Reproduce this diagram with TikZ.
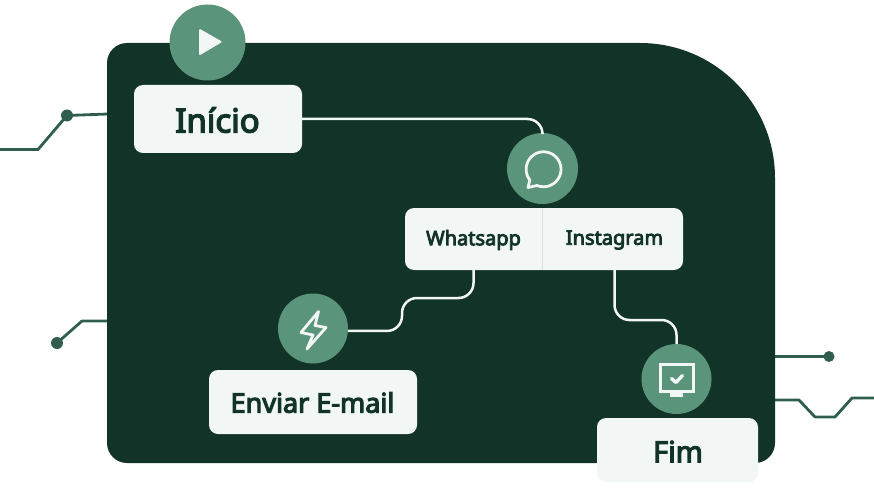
\documentclass[tikz,border=0pt]{standalone}
\usepackage{fontspec}
\setmainfont{Noto Sans}[FakeBold=4]
\usetikzlibrary{calc,positioning}
\definecolor{cartao}{HTML}{123327}
\definecolor{disco}{HTML}{5A947A}
\definecolor{caixa}{HTML}{F2F6F4}
\definecolor{fiocor}{HTML}{2F5F4C}
\tikzset{
  caixote/.style={fill=caixa,rounded corners=9pt,inner sep=0pt,text=cartao},
  rotulo/.style={inner sep=0pt,text=cartao,font=\fontsize{20}{20}\selectfont},
  bola/.style={circle,fill=disco,inner sep=0pt,minimum size=#1},
  ponto/.style={circle,fill=fiocor,inner sep=0pt,minimum size=12pt},
  fio/.style={fiocor,line width=2.8pt,line join=round},
  linha/.style={caixa,line width=2.5pt,rounded corners=15pt},
  icone/.style={caixa,line width=2.8pt,line join=round,line cap=round}
}
\begin{document}
\begin{tikzpicture}[x=1pt,y=-1pt]
\useasboundingbox (0,0) rectangle (874,489);

\node[ponto] (pontoA) at (67,115.5) {};
\node[ponto] (pontoB) at (57,343) {};
\node[ponto,minimum size=11pt] (pontoC) at (829,356.5) {};
\coordinate (fimD) at (874,398);

\draw[fio] (0,149.5) -- (38,149.5) -- (pontoA.center) -- (108,114);
\draw[fio] (108,321) -- (82,321) -- (pontoB.center);
\draw[fio] (774,356.5) -- (pontoC.center);
\draw[fio] (774,400) -- (799,400) -- (815,417) -- (835,417) -- (852,398) -- (fimD);

\fill[cartao] (107,250) [rounded corners=20pt] -- (107,43) [rounded corners=135pt] -- (775,43)
  [rounded corners=20pt] -- (775,463) -- (107,463) -- cycle;

\node[caixote,minimum width=168pt,minimum height=68pt] (inicio) at (218,119) {};
\node[rotulo,font=\fontsize{33}{33}\selectfont] at (217.5,120) {Início};

\node[bola=76pt] (play) at (207.5,42.5) {};
\node[bola=71pt] (chat) at (542.5,168.5) {};
\node[bola=70pt] (raio) at (313,328.5) {};
\node[bola=70pt] (tela) at (676.5,379) {};

\node[caixote,minimum width=278pt,minimum height=62pt] (canais) at (544,239) {};
\node[rotulo,minimum width=138pt,minimum height=60pt] (whatsapp) at (473.5,240) {Whatsapp};
\node[rotulo,minimum width=137pt,minimum height=60pt] (instagram) at (614.5,240) {Instagram};
\draw[black!12,line width=.8pt] (canais.north -| whatsapp.east) -- (canais.south -| whatsapp.east);

\node[caixote,minimum width=208pt,minimum height=64pt] (enviar) at (313,402) {};
\node[rotulo,font=\fontsize{27}{27}\selectfont] at (312.5,402.5) {Enviar E-mail};

\node[caixote,minimum width=161pt,minimum height=64pt] (fim) at (677.5,450) {};
\node[rotulo,font=\fontsize{29}{29}\selectfont] at (678,451.5) {Fim};

\coordinate (meioW) at (402,298);
\coordinate (meioI) at (645,320);

\draw[linha] (inicio.east) -| (chat.north);
\draw[linha] (raio.-4) -| (meioW) -| (whatsapp.south);
\draw[linha] (instagram.south) |- (meioI) -| (tela.north);

\fill[caixa,rounded corners=2pt] (199,28.5) -- (222.5,41.8) -- (199,55.7) -- cycle;

\draw[icone] (537,185.5) arc[start angle=248,end angle=578,radius=17.5pt] -- (528,187.5) -- cycle;

\draw[icone] (318.5,311.5) -- (301,332.5) -- (313,335) -- (307,349) -- (326,327.5) -- (315,325.5) -- cycle;

\draw[icone,line width=3pt,line cap=butt,line join=miter] (660.5,364.5) rectangle (693.5,391);
\fill[caixa] (670,392) rectangle (683,396.5);
\draw[icone,line width=3.4pt] (671.5,378.5) -- (676,382.5) -- (682.5,375.5);
\end{tikzpicture}
\end{document}
